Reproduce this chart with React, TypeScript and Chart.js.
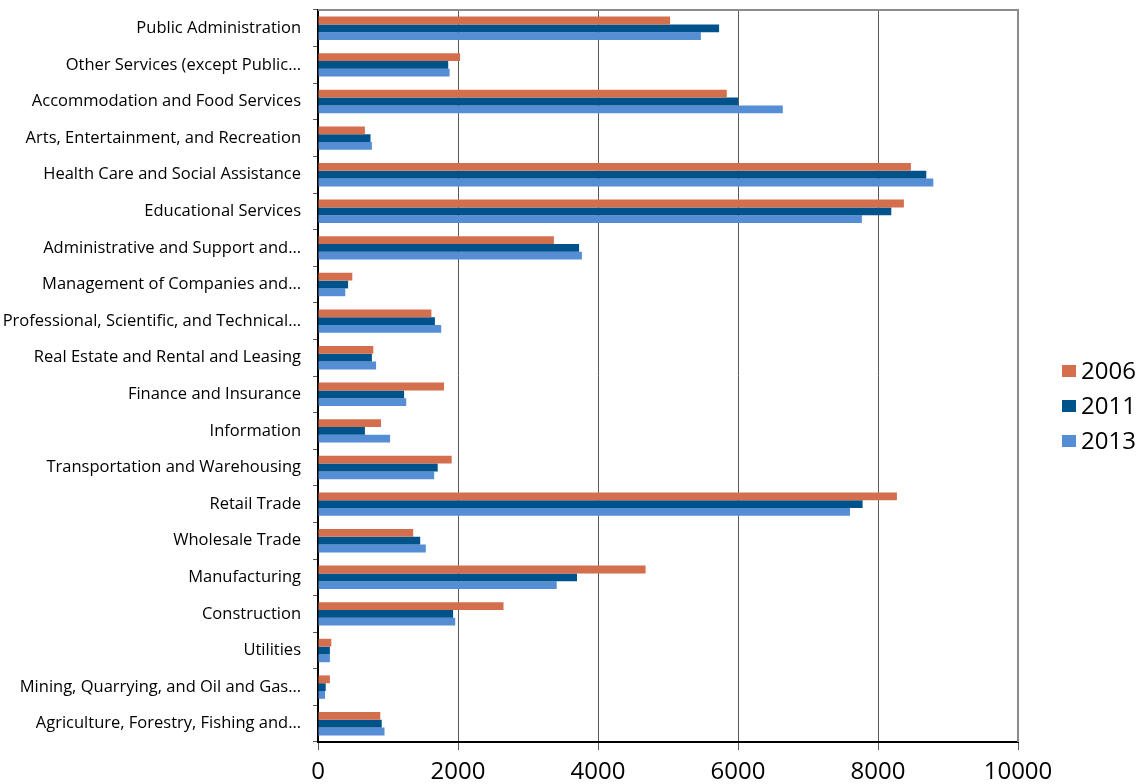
import React, { useEffect, useRef } from "react";
import { Chart, registerables } from "chart.js";

Chart.register(...registerables);

const industries: string[] = [
  "Public Administration",
  "Other Services (except Public…",
  "Accommodation and Food Services",
  "Arts, Entertainment, and Recreation",
  "Health Care and Social Assistance",
  "Educational Services",
  "Administrative and Support and…",
  "Management of Companies and…",
  "Professional, Scientific, and Technical…",
  "Real Estate and Rental and Leasing",
  "Finance and Insurance",
  "Information",
  "Transportation and Warehousing",
  "Retail Trade",
  "Wholesale Trade",
  "Manufacturing",
  "Construction",
  "Utilities",
  "Mining, Quarrying, and Oil and Gas…",
  "Agriculture, Forestry, Fishing and…",
];

const series2006: number[] = [
  5030, 2030, 5840, 670, 8470, 8370, 3370, 490, 1620, 790, 1800, 900, 1910, 8270, 1360, 4680, 2650, 190, 170, 890,
];
const series2011: number[] = [
  5730, 1860, 6000, 750, 8690, 8190, 3730, 430, 1670, 770, 1230, 670, 1710, 7780, 1460, 3700, 1930, 170, 110, 910,
];
const series2013: number[] = [
  5470, 1880, 6640, 770, 8790, 7770, 3770, 390, 1760, 830, 1260, 1030, 1660, 7600, 1540, 3410, 1960, 170, 100, 950,
];

const seriesLabels: string[] = ["2006", "2011", "2013"];
const seriesColors: string[] = ["#D46F4D", "#00528A", "#558ED5"];
const xTicks: number[] = [0, 2000, 4000, 6000, 8000, 10000];

const FONT = "'Open Sans', 'DejaVu Sans', sans-serif";

const frameAndLegend = {
  id: "frameAndLegend",
  afterDraw(chart: any) {
    const { ctx, chartArea } = chart;
    ctx.save();
    ctx.strokeStyle = "#8c8c8c";
    ctx.lineWidth = 2;
    ctx.beginPath();
    ctx.moveTo(chartArea.left, chartArea.top);
    ctx.lineTo(chartArea.right, chartArea.top);
    ctx.lineTo(chartArea.right, chartArea.bottom);
    ctx.stroke();

    // legend
    const x0 = chartArea.right + 44;
    const y0 = 371;
    const step = 35;
    ctx.font = `24px ${FONT}`;
    ctx.textBaseline = "middle";
    ctx.textAlign = "left";
    chart.data.datasets.forEach((ds: any, i: number) => {
      const cy = y0 + i * step;
      ctx.fillStyle = ds.backgroundColor;
      ctx.fillRect(x0, cy - 6, 14, 12);
      ctx.fillStyle = "#000";
      ctx.fillText(ds.label, x0 + 19, cy + 1);
    });
    ctx.restore();
  },
};

export default function App() {
  const canvasRef = useRef<HTMLCanvasElement | null>(null);

  useEffect(() => {
    if (!canvasRef.current) return;
    const chart = new Chart(canvasRef.current, {
      type: "bar",
      data: {
        labels: industries,
        datasets: [
          { label: seriesLabels[0], data: series2006, backgroundColor: seriesColors[0] },
          { label: seriesLabels[1], data: series2011, backgroundColor: seriesColors[1] },
          { label: seriesLabels[2], data: series2013, backgroundColor: seriesColors[2] },
        ],
      },
      options: {
        indexAxis: "y",
        animation: false,
        responsive: true,
        maintainAspectRatio: false,
        layout: { padding: { top: 10, right: 128, bottom: 0, left: 0 } },
        datasets: {
          bar: { categoryPercentage: 0.64, barPercentage: 1.0 },
        },
        plugins: {
          legend: { display: false },
          tooltip: { enabled: false },
          title: { display: false },
        },
        scales: {
          x: {
            type: "linear",
            position: "bottom",
            min: 0,
            max: 10000,
            afterBuildTicks: (scale: any) => {
              scale.ticks = xTicks.map((v) => ({ value: v }));
            },
            afterFit: (scale: any) => {
              scale.height = 42;
            },
            grid: {
              color: "#595959",
              lineWidth: 1,
              tickLength: 8,
              tickColor: "#595959",
            },
            border: { color: "#000", width: 2 },
            ticks: {
              color: "#000",
              padding: 8,
              font: { family: FONT, size: 24 },
              callback: (v: any) => String(v),
            },
          },
          y: {
            type: "category",
            offset: true,
            afterFit: (scale: any) => {
              scale.width = 318;
              scale.paddingTop = 0;
              scale.paddingBottom = 0;
            },
            grid: {
              offset: true,
              drawOnChartArea: false,
              drawTicks: true,
              tickLength: 5,
              tickColor: "#595959",
            },
            border: { color: "#000", width: 2 },
            ticks: {
              color: "#000",
              padding: 12,
              autoSkip: false,
              font: { family: FONT, size: 16.5 },
            },
          },
        },
      },
      plugins: [frameAndLegend],
    });
    return () => chart.destroy();
  }, []);

  return (
    <div style={{ position: "absolute", left: 0, top: 0, width: 1146, height: 784, background: "#fff" }}>
      <canvas ref={canvasRef} />
    </div>
  );
}
